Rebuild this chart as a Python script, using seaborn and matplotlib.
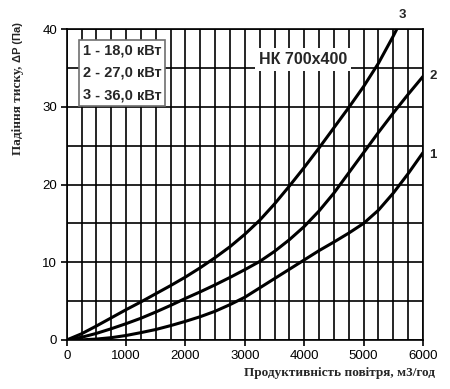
import matplotlib
matplotlib.use("Agg")
import matplotlib.pyplot as plt
import seaborn as sns
from matplotlib.ticker import MultipleLocator
from matplotlib.offsetbox import TextArea, HPacker, VPacker, AnchoredOffsetbox

# airflow, m3/h and pressure drop, Pa
airflow_1 = [0, 250, 500, 750, 1000, 1250, 1500, 1750, 2000, 2250, 2500, 2750, 3000, 3250, 3500,
             3750, 4000, 4250, 4500, 4750, 5000, 5250, 5500, 5750, 6000]
drop_1 = [0, 0.02, 0.12, 0.3, 0.58, 0.95, 1.35, 1.85, 2.4, 3.0, 3.7, 4.55, 5.5, 6.7, 7.9,
          9.1, 10.3, 11.5, 12.6, 13.75, 15.0, 16.7, 18.9, 21.4, 24.1]

airflow_2 = [0, 250, 500, 750, 1000, 1250, 1500, 1750, 2000, 2250, 2500, 2750, 3000, 3250, 3500,
             3750, 4000, 4250, 4500, 4750, 5000, 5250, 5500, 5750, 6000]
drop_2 = [0, 0.35, 0.85, 1.45, 2.1, 2.8, 3.6, 4.45, 5.35, 6.2, 7.1, 8.05, 9.05, 10.1, 11.4,
          12.9, 14.6, 16.6, 18.9, 21.5, 24.1, 26.7, 29.2, 31.6, 33.9]

airflow_3 = [0, 250, 500, 750, 1000, 1250, 1500, 1750, 2000, 2250, 2500, 2750, 3000, 3250, 3500,
             3750, 4000, 4250, 4500, 4750, 5000, 5250, 5500, 5560]
drop_3 = [0, 0.8, 1.8, 2.85, 3.9, 4.9, 5.95, 7.0, 8.1, 9.3, 10.6, 12.0, 13.6, 15.4, 17.5,
          19.8, 22.2, 24.7, 27.3, 29.9, 32.6, 35.6, 39.1, 40.0]

curve_ids = ["1", "2", "3"]
powers = ["18,0", "27,0", "36,0"]
title = "НК 700х400"
x_label = "Продуктивність повітря, м3/год"
y_label_a = "Падіння тиску,"
y_label_b = "ΔP (Па)"

sns.set_theme(style="white")
plt.rcParams["font.family"] = ["Liberation Sans", "DejaVu Sans"]

fig = plt.figure(figsize=(4.5, 3.89), dpi=100)
ax = fig.add_axes([66.7 / 450, 49 / 389, (423 - 66.7) / 450, (340 - 29) / 389])

for xs, ys in [(airflow_1, drop_1), (airflow_2, drop_2), (airflow_3, drop_3)]:
    sns.lineplot(x=xs, y=ys, ax=ax, color="black", linewidth=2.2, zorder=3)

ax.set_xlim(0, 6000)
ax.set_ylim(0, 40)
ax.xaxis.set_major_locator(MultipleLocator(1000))
ax.xaxis.set_minor_locator(MultipleLocator(250))
ax.yaxis.set_major_locator(MultipleLocator(10))
ax.yaxis.set_minor_locator(MultipleLocator(5))
ax.grid(which="both", color="black", linewidth=1.2)
ax.set_axisbelow(True)
ax.tick_params(axis="both", which="major", direction="out", length=4, width=1.2,
               color="black", labelsize=9.5, labelcolor="black", pad=3)
ax.tick_params(axis="x", which="minor", length=0)
ax.tick_params(axis="y", which="minor", direction="out", length=4, width=1.2, color="black")
ax.tick_params(axis="x", which="major", bottom=True)
ax.tick_params(axis="y", which="major", left=True)
for spine in ax.spines.values():
    spine.set_color("black")
    spine.set_linewidth(1.2)
ax.set_xlabel("")
ax.set_ylabel("")

# curve numbers at line ends
ax.text(5645, 41.8, curve_ids[2], ha="center", va="center", fontsize=9.5, weight="bold", clip_on=False)
ax.text(6167, 33.9, curve_ids[1], ha="center", va="center", fontsize=9.5, weight="bold", clip_on=False)
ax.text(6167, 23.8, curve_ids[0], ha="center", va="center", fontsize=9.5, weight="bold", clip_on=False)

ax.text(3980, 36.1, title, ha="center", va="center", fontsize=11.5, weight="bold", zorder=4,
        bbox=dict(facecolor="white", edgecolor="none", pad=3))

rows = []
for num, power in zip(curve_ids, powers):
    rows.append(HPacker(children=[TextArea(num, textprops=dict(weight="bold", size=10.5)),
                                  TextArea(f" - {power} кВт", textprops=dict(weight="semibold", size=10.5))],
                        align="baseline", pad=0, sep=0))
box = VPacker(children=rows, align="left", pad=1.5, sep=6)
legend_box = AnchoredOffsetbox(loc="upper left", child=box, pad=0.1, borderpad=0, frameon=True,
                               bbox_to_anchor=(79 / 450, 1 - 40 / 389), bbox_transform=fig.transFigure)
legend_box.patch.set_edgecolor("#707070")
legend_box.patch.set_linewidth(1.2)
legend_box.patch.set_facecolor("white")
legend_box.set_zorder(5)
ax.add_artist(legend_box)

fig.text(435 / 450, 1 - 373 / 389, x_label, ha="right", va="center", fontsize=9.5,
         weight="bold", family="Liberation Serif")
fig.text(18 / 450, 1 - 22 / 389, y_label_b, rotation=90, ha="center", va="top", fontsize=8,
         weight="bold")
fig.text(18 / 450, 1 - 66 / 389, y_label_a, rotation=90, ha="center", va="top", fontsize=9.5,
         weight="bold", family="Liberation Serif")

fig.savefig("out.png", dpi=100, facecolor="white")
